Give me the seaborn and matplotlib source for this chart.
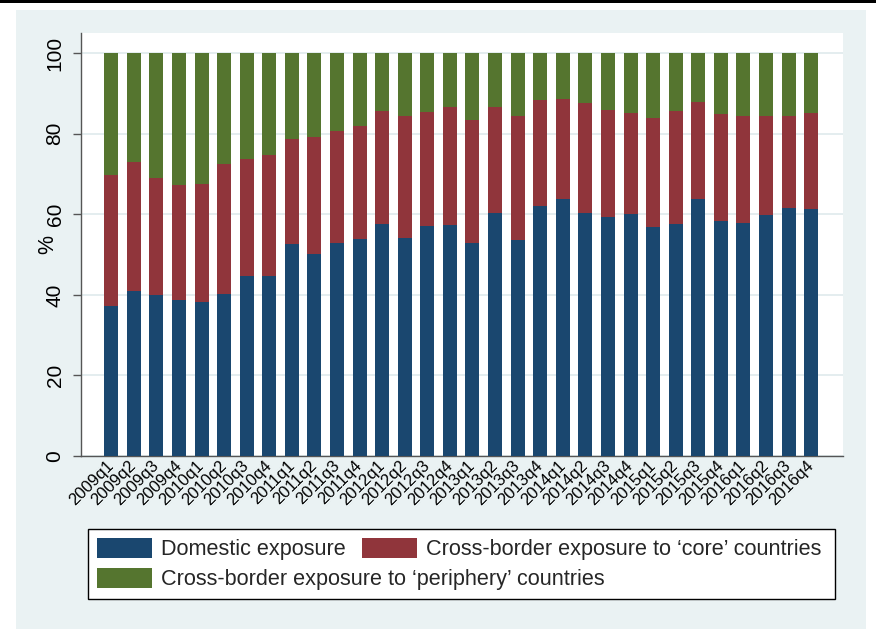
import matplotlib
matplotlib.use("Agg")
import matplotlib.pyplot as plt
from matplotlib.patches import Rectangle, Patch
import pandas as pd
import seaborn as sns

# Quarterly composition of bank sovereign exposures (% of total)
quarters = [
    "2009q1", "2009q2", "2009q3", "2009q4",
    "2010q1", "2010q2", "2010q3", "2010q4",
    "2011q1", "2011q2", "2011q3", "2011q4",
    "2012q1", "2012q2", "2012q3", "2012q4",
    "2013q1", "2013q2", "2013q3", "2013q4",
    "2014q1", "2014q2", "2014q3", "2014q4",
    "2015q1", "2015q2", "2015q3", "2015q4",
    "2016q1", "2016q2", "2016q3", "2016q4",
]
domestic = [
    37.2, 41.0, 40.0, 38.7, 38.2, 40.2, 44.7, 44.7,
    52.6, 50.2, 52.9, 53.9, 57.6, 54.1, 57.1, 57.4,
    52.9, 60.2, 53.6, 62.1, 63.9, 60.2, 59.4, 60.0,
    56.9, 57.6, 63.8, 58.4, 57.9, 59.7, 61.5, 61.2,
]
core = [
    32.6, 32.1, 29.1, 28.6, 29.3, 32.3, 28.9, 30.0,
    26.1, 28.9, 27.8, 28.0, 28.1, 30.3, 28.3, 29.3,
    30.5, 26.5, 30.7, 26.3, 24.7, 27.3, 26.5, 25.2,
    27.0, 28.1, 24.0, 26.6, 26.4, 24.6, 22.9, 24.0,
]
periphery = [
    30.2, 26.9, 30.9, 32.7, 32.5, 27.5, 26.4, 25.3,
    21.3, 20.9, 19.3, 18.1, 14.3, 15.6, 14.6, 13.3,
    16.6, 13.3, 15.7, 11.6, 11.4, 12.5, 14.1, 14.8,
    16.1, 14.3, 12.2, 15.0, 15.7, 15.7, 15.6, 14.8,
]
series_labels = [
    "Domestic exposure",
    "Cross-border exposure to \u2018core\u2019 countries",
    "Cross-border exposure to \u2018periphery\u2019 countries",
]

BLUE = "#1A476F"
RED = "#90353B"
GREEN = "#55752F"
REGION = "#EAF2F3"
GRID = "#E4EDEF"

sns.set_theme(style="white")
plt.rcParams["font.family"] = ["Liberation Sans", "DejaVu Sans"]

df = pd.DataFrame({"quarter": quarters, "domestic": domestic,
                   "core": core, "periphery": periphery})
df["core_top"] = df["domestic"] + df["core"]
df["total"] = df["core_top"] + df["periphery"]

W, H = 876, 629
fig = plt.figure(figsize=(W / 100, H / 100), dpi=100, facecolor="white")

# graph region background and rule along the top edge
fig.add_artist(Rectangle((16 / W, 0), 850 / W, 1 - 10 / H,
                         transform=fig.transFigure, facecolor=REGION,
                         edgecolor="none", zorder=-10))
fig.add_artist(Rectangle((0, 1 - 3.3 / H), 1, 3.3 / H,
                         transform=fig.transFigure, facecolor="black",
                         edgecolor="none", zorder=-9))

ax = fig.add_axes([81 / W, 1 - 456 / H, (843 - 81) / W, (456 - 33) / H])
ax.set_facecolor("white")

# stacked bars: draw cumulative heights from the back to the front
for col, colr in [("total", GREEN), ("core_top", RED), ("domestic", BLUE)]:
    sns.barplot(data=df, x="quarter", y=col, color=colr, saturation=1,
                width=0.62, linewidth=0, ax=ax, zorder=3)

ax.set_xlim(-1.34, len(quarters) - 1 + 1.41)
ax.set_ylim(0, 105)
ax.set_yticks([0, 20, 40, 60, 80, 100])
ax.yaxis.grid(True, color=GRID, linewidth=1.4)
ax.xaxis.grid(False)
ax.set_axisbelow(True)

for s in ["top", "right"]:
    ax.spines[s].set_visible(False)
for s in ["left", "bottom"]:
    ax.spines[s].set_color("#555555")
    ax.spines[s].set_linewidth(1.0)

ax.tick_params(axis="y", which="major", left=True, length=5.8, width=1.0,
               color="#555555", pad=6.0, labelsize=15, labelcolor="black",
               labelrotation=90)
for lab in ax.get_yticklabels():
    lab.set_va("center")

ax.tick_params(axis="x", bottom=False, length=0, pad=5, labelsize=12,
               labelcolor="black")
ax.set_xticks(range(len(quarters)))
ax.set_xticklabels(quarters, rotation=45, ha="right", va="center",
                   rotation_mode="anchor")

ax.set_xlabel("")
ax.set_ylabel("%", fontsize=15.5, color="black", labelpad=0)
ax.yaxis.set_label_coords((58 - 81) / (843 - 81), 0.5)

# legend: white box with two rows of entries
fig.add_artist(Rectangle((88 / W, 1 - 599 / H), 747 / W, 70 / H,
                         transform=fig.transFigure, facecolor="white",
                         edgecolor="black", linewidth=1.0, zorder=5))
handles = [Patch(facecolor=c, edgecolor="none") for c in (BLUE, RED, GREEN)]
common = dict(frameon=False, fontsize=15.6, handlelength=2.55,
              handleheight=1.02, handletextpad=0.4, borderpad=0,
              borderaxespad=0, loc="center left")
leg1 = fig.legend(handles[:2], series_labels[:2], ncol=2, columnspacing=0.75,
                  bbox_to_anchor=(97 / W, 1 - 549 / H), **common)
leg2 = fig.legend(handles[2:], series_labels[2:], ncol=1,
                  bbox_to_anchor=(97 / W, 1 - 579 / H), **common)
leg1.set_zorder(6)
leg2.set_zorder(6)

fig.savefig("out.png", dpi=100, facecolor="white")
